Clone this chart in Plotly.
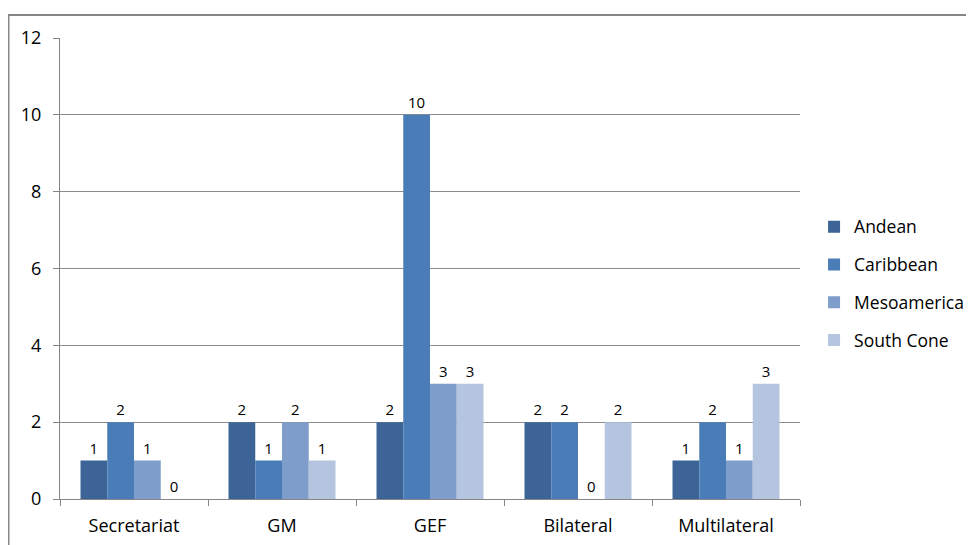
import plotly.graph_objects as go

categories = ["Secretariat", "GM", "GEF", "Bilateral", "Multilateral"]
andean = [1, 2, 2, 2, 1]
caribbean = [2, 1, 10, 2, 2]
mesoamerica = [1, 2, 3, 0, 1]
south_cone = [0, 1, 3, 2, 3]

series_names = ["Andean", "Caribbean", "Mesoamerica", "South Cone"]
series_values = [andean, caribbean, mesoamerica, south_cone]
colors = ["#3C6497", "#4A7CB8", "#7F9DCA", "#B5C5E0"]

# page body has 8px margin; compensate
W, H = 966, 537
L, R, T, B = 52, 174, 30, 46

fig = go.Figure()
for i, (name, vals, col) in enumerate(zip(series_names, series_values, colors)):
    fig.add_trace(go.Bar(
        x=categories, y=vals, name=name, marker_color=col, marker_line_width=0,
        text=[str(v) for v in vals], textposition="outside",
        textfont=dict(size=15, color="#000000"), cliponaxis=False,
        legendgroup=name,
    ))

plot_w = W - L - R
plot_h = H - T - B
fig.add_shape(type="rect", xref="paper", yref="paper",
              x0=(0.5 - L) / plot_w, x1=1.4, y0=-0.3, y1=(H - B - 7) / plot_h,
              line=dict(color="#868686", width=2), fillcolor="rgba(0,0,0,0)", layer="below")

fig.update_layout(
    width=W, height=H,
    margin=dict(l=L, r=R, t=T, b=B, autoexpand=False),
    paper_bgcolor="white", plot_bgcolor="white",
    barmode="group", bargap=0.277, bargroupgap=0,
    font=dict(family="Open Sans, Liberation Sans, sans-serif", color="#000000"),
    showlegend=True,
    legend=dict(x=1.019, y=0.468, xanchor="left", yanchor="middle",
                font=dict(size=17.5, color="#000000"), traceorder="grouped",
                tracegroupgap=12, itemwidth=30),
)
fig.update_xaxes(showline=True, linecolor="#868686", linewidth=1,
                 ticks="outside", tickson="boundaries", ticklen=6, tickcolor="#868686",
                 tickfont=dict(size=18, color="#000000"), showgrid=False,
                 ticklabelstandoff=10, automargin=False)
fig.update_yaxes(range=[0, 12], dtick=2, showline=True, linecolor="#868686", linewidth=1,
                 ticks="outside", ticklen=6, tickcolor="#868686",
                 tickfont=dict(size=18, color="#000000"), ticklabelstandoff=8,
                 showgrid=True, gridcolor="#8C8C8C", gridwidth=1, zeroline=False,
                 automargin=False)

fig.write_html("out.html")
